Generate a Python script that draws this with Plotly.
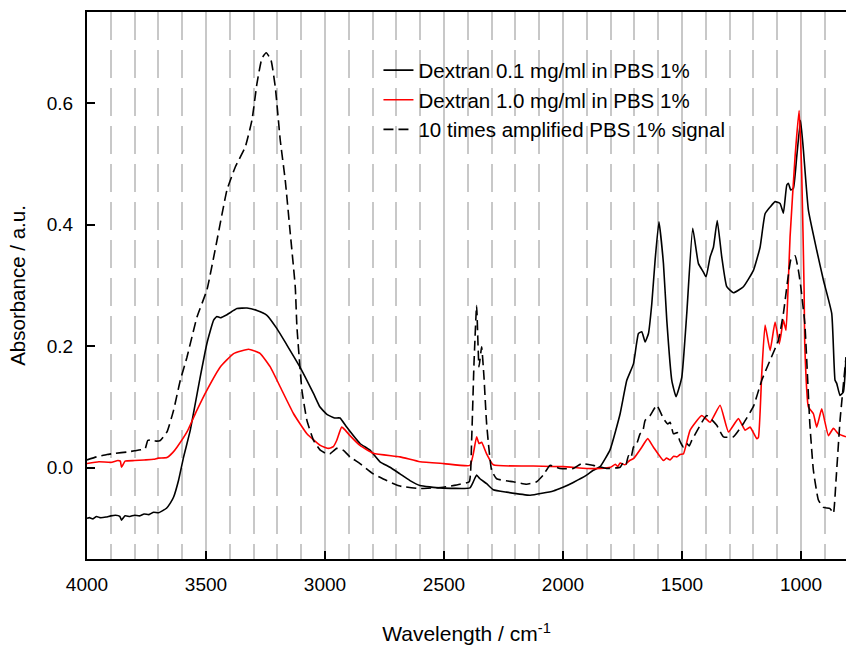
import plotly.graph_objects as go

# Dextran 0.1 mg/ml in PBS 1% (black solid)
wn_a = [4000, 3990, 3975, 3960, 3945, 3920, 3900, 3880, 3862, 3855, 3840, 3820, 3800, 3780, 3760, 3740,
        3720, 3700, 3680, 3665, 3650, 3636, 3615, 3594, 3566, 3524, 3496, 3468, 3454, 3440, 3412,
        3370, 3328, 3286, 3244, 3202, 3160, 3104, 3048, 3021, 2992, 2960, 2937, 2909, 2853, 2811,
        2769, 2727, 2685, 2643, 2601, 2517, 2391, 2377, 2363, 2349, 2321, 2293, 2237, 2138, 2041,
        2000, 1957, 1901, 1873, 1844, 1802, 1760, 1732, 1704, 1683, 1669, 1655, 1641, 1627, 1613,
        1597, 1578, 1564, 1543, 1525, 1501, 1480, 1455, 1431, 1410, 1399, 1382, 1368, 1352, 1333,
        1312, 1284, 1242, 1200, 1172, 1151, 1130, 1109, 1088, 1074, 1060, 1053, 1043, 1032, 1018,
        1002, 990, 969, 934, 906, 871, 857, 850, 836, 822, 811]
abs_a = [-0.083, -0.082, -0.084, -0.080, -0.082, -0.081, -0.079, -0.078, -0.080, -0.086, -0.079, -0.080, -0.078, -0.079, -0.076, -0.077,
         -0.073, -0.074, -0.070, -0.066, -0.058, -0.048, -0.020, 0.018, 0.062, 0.150, 0.205, 0.243, 0.249, 0.247, 0.252,
         0.262, 0.263, 0.259, 0.251, 0.229, 0.202, 0.165, 0.122, 0.100, 0.088, 0.082, 0.082, 0.067, 0.040, 0.029,
         0.010, 0.001, -0.010, -0.021, -0.029, -0.033, -0.033, -0.023, -0.012, -0.018, -0.026, -0.036, -0.040, -0.045, -0.038,
         -0.032, -0.024, -0.012, -0.004, 0.002, 0.030, 0.089, 0.144, 0.171, 0.221, 0.224, 0.207, 0.221, 0.270, 0.342,
         0.405, 0.336, 0.243, 0.144, 0.117, 0.149, 0.254, 0.394, 0.336, 0.322, 0.314, 0.347, 0.363, 0.407, 0.347,
         0.298, 0.288, 0.298, 0.325, 0.363, 0.418, 0.429, 0.438, 0.435, 0.419, 0.465, 0.468, 0.457, 0.460, 0.512,
         0.572, 0.523, 0.424, 0.358, 0.309, 0.254, 0.144, 0.139, 0.119, 0.125, 0.182]

# Dextran 1.0 mg/ml in PBS 1% (red)
wn_b = [4000, 3950, 3900, 3870, 3860, 3855, 3840, 3800, 3760, 3720, 3700, 3664, 3640, 3622, 3580, 3538,
        3496, 3440, 3384, 3321, 3272, 3230, 3188, 3132, 3076, 3020, 2985, 2965, 2951, 2930, 2915, 2895,
        2853, 2797, 2685, 2601, 2500, 2391, 2377, 2363, 2353, 2342, 2321, 2293, 2125, 2000, 1901, 1844,
        1800, 1780, 1770, 1760, 1740, 1720, 1704, 1669, 1644, 1620, 1578, 1565, 1550, 1535, 1522, 1508,
        1494, 1466, 1417, 1382, 1340, 1305, 1263,
        1235, 1214, 1186, 1179, 1165, 1151, 1130, 1109, 1091, 1074, 1063, 1053, 1046, 1025, 1008, 997,
        987, 984, 969, 948, 934, 913, 885, 864, 843, 811]
abs_b = [0.007, 0.010, 0.009, 0.012, 0.011, 0.001, 0.011, 0.012, 0.013, 0.014, 0.016, 0.017, 0.025, 0.034, 0.059, 0.095,
         0.128, 0.166, 0.188, 0.195, 0.188, 0.166, 0.133, 0.089, 0.056, 0.037, 0.032, 0.035, 0.045, 0.067, 0.062, 0.053,
         0.037, 0.024, 0.018, 0.010, 0.007, 0.004, 0.023, 0.051, 0.040, 0.042, 0.023, 0.005, 0.003, 0.002, -0.001, -0.001,
         0.001, 0.006, 0.002, 0.008, 0.005, 0.012, 0.015, 0.034, 0.048, 0.034, 0.012, 0.016, 0.013, 0.019, 0.018, 0.022,
         0.023, 0.062, 0.086, 0.075, 0.103, 0.059, 0.081,
         0.062, 0.067, 0.048, 0.050, 0.155, 0.235, 0.193, 0.240, 0.204, 0.243, 0.226, 0.309, 0.380, 0.512, 0.588, 0.484,
         0.292, 0.199, 0.100, 0.089, 0.067, 0.097, 0.053, 0.065, 0.056, 0.051]

# 10 times amplified PBS 1% signal (black dashed)
wn_c = [4000, 3960, 3916, 3880, 3832, 3800, 3770, 3755, 3745, 3734, 3710, 3692, 3664, 3636, 3608, 3580,
        3538, 3496, 3454, 3412, 3377, 3335, 3307, 3286, 3265, 3247, 3227, 3209, 3188, 3167, 3146, 3125,
        3118, 3097, 3076, 3048, 3020, 2992, 2979, 2951, 2923, 2895, 2853, 2797, 2741, 2685, 2601, 2503,
        2433, 2394, 2384, 2374, 2363, 2353, 2342, 2332, 2321, 2300, 2279, 2209, 2153, 2111, 2083, 2055,
        2013, 1957, 1922, 1873, 1817, 1760, 1745, 1735, 1725, 1715, 1704, 1690, 1676, 1665, 1655, 1634,
        1606, 1578, 1560, 1550, 1536, 1520, 1510, 1494, 1480, 1470, 1459,
        1396, 1354, 1326, 1284, 1242, 1200, 1165, 1130, 1095, 1074, 1053, 1042, 1025, 1011, 1001, 984,
        963, 948, 927, 906, 878, 864, 853, 836, 811]
abs_c = [0.013, 0.018, 0.022, 0.024, 0.026, 0.028, 0.030, 0.032, 0.045, 0.046, 0.044, 0.045, 0.059, 0.095, 0.144, 0.182,
         0.248, 0.293, 0.374, 0.457, 0.495, 0.528, 0.572, 0.632, 0.674, 0.683, 0.671, 0.627, 0.539, 0.473, 0.386, 0.298,
         0.232, 0.128, 0.078, 0.045, 0.029, 0.023, 0.023, 0.032, 0.029, 0.018, 0.007, -0.010, -0.021, -0.030, -0.034, -0.032,
         -0.027, -0.023, 0.045, 0.172, 0.267, 0.166, 0.199, 0.149, 0.073, -0.004, -0.018, -0.023, -0.027, -0.023, -0.012, 0.004,
         -0.001, -0.001, 0.007, 0.004, -0.001, 0.001, 0.010, 0.006, 0.020, 0.016, 0.034, 0.040, 0.056, 0.060, 0.078, 0.086,
         0.103, 0.081, 0.072, 0.075, 0.056, 0.058, 0.045, 0.034, 0.040, 0.036, 0.045,
         0.086, 0.070, 0.051, 0.051, 0.073, 0.101, 0.144, 0.177, 0.210, 0.254, 0.318, 0.344, 0.349, 0.325, 0.298, 0.237,
         0.073, -0.004, -0.053, -0.065, -0.067, -0.075, -0.021, 0.078, 0.182]

names = ["Dextran 0.1 mg/ml in PBS 1%", "Dextran 1.0 mg/ml in PBS 1%", "10 times amplified PBS 1% signal"]
y_ticks = [0.0, 0.2, 0.4, 0.6]

FONT = "Liberation Sans, Arial, sans-serif"
SHAPE = dict(shape="spline", smoothing=0.4)

fig = go.Figure()
fig.add_trace(go.Scatter(x=wn_a, y=abs_a, mode="lines", name=names[0],
                         line=dict(color="black", width=1.6, **SHAPE)))
fig.add_trace(go.Scatter(x=wn_b, y=abs_b, mode="lines", name=names[1],
                         line=dict(color="#ff0000", width=1.6, **SHAPE)))
fig.add_trace(go.Scatter(x=wn_c, y=abs_c, mode="lines", name=names[2],
                         line=dict(color="black", width=1.6, dash="10px,5px", **SHAPE)))

fig.update_layout(
    width=846, height=646,
    margin=dict(l=87, r=0, t=12, b=87),
    plot_bgcolor="white", paper_bgcolor="white",
    font=dict(family=FONT, color="black", size=19),
    showlegend=True,
    legend=dict(x=0.384, y=0.93, xanchor="left", yanchor="top",
                bgcolor="rgba(0,0,0,0)", borderwidth=0,
                font=dict(family=FONT, size=20.5, color="black"),
                tracegroupgap=0),
    xaxis=dict(range=[4000, 811], autorange=False,
               tickmode="linear", tick0=0, dtick=500,
               ticks="inside", ticklen=8, tickwidth=1.5, tickcolor="black",
               showline=True, linewidth=2, linecolor="black", mirror=True,
               showgrid=True, gridcolor="#c8c8c8", gridwidth=2, zeroline=False,
               minor=dict(tick0=0, dtick=100, showgrid=True, gridcolor="#c8c8c8",
                          gridwidth=2, griddash="28px,10px", ticks=""),
               tickfont=dict(family=FONT, size=19, color="black"),
               ticklabelstandoff=7,
               title=dict(text="Wavelength / cm<sup>-1</sup>",
                          font=dict(family=FONT, size=21, color="black"), standoff=33)),
    yaxis=dict(range=[-0.15, 0.75], autorange=False,
               tickmode="array", tickvals=y_ticks, tickformat=".1f",
               ticks="inside", ticklen=8, tickwidth=1.5, tickcolor="black",
               showline=True, linewidth=2, linecolor="black", mirror=False,
               showgrid=False, zeroline=False,
               tickfont=dict(family=FONT, size=19, color="black"),
               ticklabelstandoff=8,
               title=dict(text="Absorbance / a.u.",
                          font=dict(family=FONT, size=20.5, color="black"), standoff=16)),
)

fig.write_html("out.html")
